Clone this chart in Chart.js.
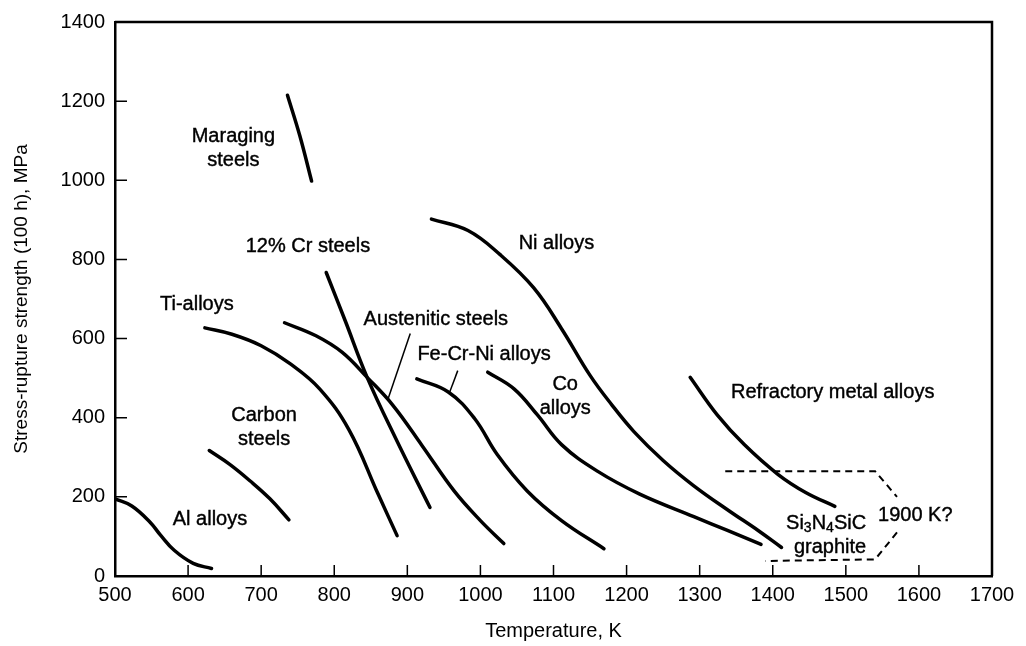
<!DOCTYPE html>
<html>
<head>
<meta charset="utf-8">
<script src="https://cdn.jsdelivr.net/npm/chart.js@4.4.1/dist/chart.umd.min.js"></script>
<style>
  html, body { margin: 0; padding: 0; background: #fff; overflow: hidden; }
  #wrap { width: 1026px; height: 646px; position: relative; }
</style>
</head>
<body>
<div id="wrap"><canvas id="chart"></canvas></div>
<script>
// temperature (K) / stress-rupture strength (MPa)
const alT = [500, 523, 548, 562, 581, 607, 632];
const alS = [195, 177, 136, 104, 65, 32, 19];

const carbonT = [629, 657, 685, 712, 738];
const carbonS = [317, 282, 240, 195, 142];

const tiT = [623, 660, 700, 740, 780, 820, 860, 886];
const tiS = [627, 611, 582, 536, 473, 370, 207, 102];

const maragingT = [736, 753, 769];
const maragingS = [1215, 1112, 998];

const crT = [789, 815, 845, 884, 931];
const crS = [767, 645, 502, 348, 173];

const austeniticT = [732, 775, 811, 845, 880, 920, 964, 1000, 1032];
const austeniticS = [640, 607, 565, 502, 432, 330, 215, 140, 82];

const feCrNiT = [913, 956, 992, 1023, 1064, 1111, 1169];
const feCrNiS = [498, 465, 398, 307, 215, 140, 69];

const coT = [1010, 1046, 1078, 1111, 1160, 1218, 1292, 1338, 1384];
const coS = [515, 473, 407, 332, 265, 207, 150, 115, 80];

const niT = [933, 983, 1027, 1073, 1111, 1150, 1180, 1210, 1250, 1292, 1340, 1380, 1412];
const niS = [902, 873, 812, 728, 625, 507, 432, 365, 292, 228, 165, 115, 72];

const refractoryT = [1287, 1324, 1361, 1407, 1445, 1485];
const refractoryS = [502, 407, 332, 257, 211, 176];

// dashed outline for the ceramics region
const ceramicTopT = [1335, 1540, 1570];
const ceramicTopS = [265, 265, 200];
const ceramicLowT = [1570, 1540, 1390];
const ceramicLowS = [110, 42, 38];

// leader lines from labels to curves
const austLeaderT = [873, 904];
const austLeaderS = [444, 613];
const feLeaderT = [958, 969];
const feLeaderS = [465, 519];

const xTicks = [500, 600, 700, 800, 900, 1000, 1100, 1200, 1300, 1400, 1500, 1600, 1700];
const yTicks = [0, 200, 400, 600, 800, 1000, 1200, 1400];

const curveLabels = [
  { lines: ["Maraging", "steels"], t: 662, s: 1081 },
  { lines: ["12% Cr steels"], t: 764, s: 832 },
  { lines: ["Ti-alloys"], t: 612, s: 687 },
  { lines: ["Austenitic steels"], t: 939, s: 647 },
  { lines: ["Fe-Cr-Ni alloys"], t: 1005, s: 560 },
  { lines: ["Ni alloys"], t: 1104, s: 840 },
  { lines: ["Co", "alloys"], t: 1116, s: 454 },
  { lines: ["Carbon", "steels"], t: 704, s: 376 },
  { lines: ["Al alloys"], t: 630, s: 142 },
  { lines: ["Refractory metal alloys"], t: 1482, s: 465 },
  { lines: ["1900 K?"], t: 1595, s: 152 },
];
const ceramicLabel = { t: 1473, s: 102 };

const FONT = '"Liberation Sans", Arial, Helvetica, sans-serif';

const toPoints = (xs, ys) => xs.map((x, i) => ({ x, y: ys[i] }));

const solid = (xs, ys) => ({
  data: toPoints(xs, ys),
  showLine: true,
  borderColor: "#000",
  borderWidth: 3.5,
  pointRadius: 0,
  tension: 0.4,
  borderCapStyle: "round",
});

const dashed = (xs, ys) => ({
  data: toPoints(xs, ys),
  showLine: true,
  borderColor: "#000",
  borderWidth: 2,
  borderDash: [7, 5],
  pointRadius: 0,
  tension: 0,
});

const leader = (xs, ys) => ({
  data: toPoints(xs, ys),
  showLine: true,
  borderColor: "#000",
  borderWidth: 1.5,
  pointRadius: 0,
  tension: 0,
});

const framePlugin = {
  id: "frame",
  afterDraw(chart) {
    const { ctx, chartArea: a, scales } = chart;
    ctx.save();
    ctx.strokeStyle = "#000";
    ctx.lineWidth = 2.5;
    ctx.beginPath();
    ctx.moveTo(a.left, a.top);
    ctx.lineTo(a.right, a.top);
    ctx.lineTo(a.right, a.bottom);
    ctx.stroke();

    // short ticks pointing into the plot
    ctx.lineWidth = 1.5;
    ctx.beginPath();
    xTicks.slice(1, -1).forEach((v) => {
      const px = scales.x.getPixelForValue(v);
      ctx.moveTo(px, a.bottom);
      ctx.lineTo(px, a.bottom - 11);
    });
    yTicks.slice(1, -1).forEach((v) => {
      const py = scales.y.getPixelForValue(v);
      ctx.moveTo(a.left, py);
      ctx.lineTo(a.left + 12, py);
    });
    ctx.stroke();
    ctx.restore();
  },
};

const labelPlugin = {
  id: "curveLabels",
  afterDatasetsDraw(chart) {
    const { ctx, scales } = chart;
    ctx.save();
    ctx.fillStyle = "#000";
    ctx.strokeStyle = "#000";
    ctx.lineWidth = 0.4;
    ctx.font = `20px ${FONT}`;
    ctx.textAlign = "center";
    ctx.textBaseline = "middle";
    const lh = 24;
    const put = (text, x, y) => {
      ctx.fillText(text, x, y);
      ctx.strokeText(text, x, y);
    };
    curveLabels.forEach((l) => {
      const cx = scales.x.getPixelForValue(l.t);
      const cy = scales.y.getPixelForValue(l.s);
      const y0 = cy - ((l.lines.length - 1) * lh) / 2;
      l.lines.forEach((line, i) => put(line, cx, y0 + i * lh));
    });

    // Si3N4SiC with subscripts, then "graphite"
    const runs = [
      { t: "Si", sub: false },
      { t: "3", sub: true },
      { t: "N", sub: false },
      { t: "4", sub: true },
      { t: "SiC", sub: false },
    ];
    const big = `20px ${FONT}`;
    const small = `14px ${FONT}`;
    let width = 0;
    runs.forEach((r) => {
      ctx.font = r.sub ? small : big;
      width += ctx.measureText(r.t).width;
    });
    const cx = scales.x.getPixelForValue(ceramicLabel.t);
    const cy = scales.y.getPixelForValue(ceramicLabel.s);
    let x = cx - width / 2;
    ctx.textAlign = "left";
    runs.forEach((r) => {
      ctx.font = r.sub ? small : big;
      put(r.t, x, cy - lh / 2 + (r.sub ? 5 : 0));
      x += ctx.measureText(r.t).width;
    });
    ctx.font = big;
    ctx.textAlign = "center";
    put("graphite", cx + 4, cy + lh / 2);
    ctx.restore();
  },
};

Chart.defaults.font.family = FONT;
Chart.defaults.color = "#000";

new Chart(document.getElementById("chart"), {
  type: "scatter",
  data: {
    datasets: [
      solid(alT, alS),
      solid(carbonT, carbonS),
      solid(tiT, tiS),
      solid(maragingT, maragingS),
      solid(crT, crS),
      solid(austeniticT, austeniticS),
      solid(feCrNiT, feCrNiS),
      solid(coT, coS),
      solid(niT, niS),
      solid(refractoryT, refractoryS),
      dashed(ceramicTopT, ceramicTopS),
      dashed(ceramicLowT, ceramicLowS),
      leader(austLeaderT, austLeaderS),
      leader(feLeaderT, feLeaderS),
    ],
  },
  options: {
    responsive: true,
    maintainAspectRatio: false,
    animation: false,
    layout: { padding: { top: 16, right: 34, left: 0, bottom: 0 } },
    plugins: {
      legend: { display: false },
      tooltip: { enabled: false },
    },
    scales: {
      x: {
        type: "linear",
        min: 500,
        max: 1700,
        afterFit: (scale) => { scale.height = 70; },
        afterBuildTicks: (scale) => { scale.ticks = xTicks.map((v) => ({ value: v })); },
        grid: { display: false, drawTicks: false },
        border: { display: true, color: "#000", width: 2.5 },
        ticks: {
          padding: 7,
          maxRotation: 0,
          font: { size: 20 },
          callback: (v) => String(v),
        },
        title: {
          display: true,
          text: "Temperature, K",
          font: { size: 20 },
          padding: { top: 0, bottom: 3 },
        },
      },
      y: {
        type: "linear",
        min: 0,
        max: 1400,
        afterFit: (scale) => { scale.width = 115; },
        afterBuildTicks: (scale) => { scale.ticks = yTicks.map((v) => ({ value: v })); },
        grid: { display: false, drawTicks: false },
        border: { display: true, color: "#000", width: 2.5 },
        ticks: {
          padding: 10,
          font: { size: 20 },
          callback: (v) => String(v),
        },
        title: {
          display: true,
          text: "Stress-rupture strength (100 h), MPa",
          font: { size: 19 },
          padding: { top: 10, bottom: 0 },
        },
      },
    },
  },
  plugins: [framePlugin, labelPlugin],
});
</script>
</body>
</html>
